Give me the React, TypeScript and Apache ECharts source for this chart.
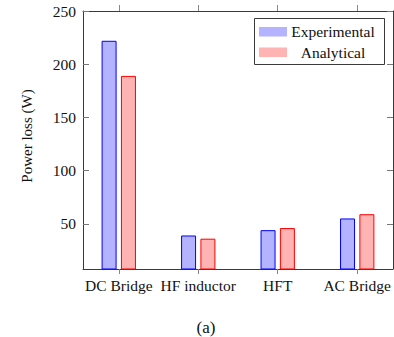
import React, { useEffect, useRef } from "react";
import * as echarts from "echarts";

// Component categories and measured / computed losses (W)
const categories = ["DC Bridge", "HF inductor", "HFT", "AC Bridge"];
const seriesNames = ["Experimental", "Analytical"];
const experimental = [222, 39, 44, 55];
const analytical = [189, 36, 46, 59];
const yTicks = [50, 100, 150, 200, 250];
const yTitle = "Power loss (W)";
const caption = "(a)";

const FONT = "Times New Roman, Liberation Serif, DejaVu Serif, serif";
const AXIS = "#3a3a3a";
const TEXT = "#111";
const BLUE_FILL = "#b3b3ff";
const BLUE_LINE = "#0000ff";
const RED_FILL = "#ffb3b3";
const RED_LINE = "#ff0000";

export default function App() {
  const ref = useRef<HTMLDivElement>(null);

  useEffect(() => {
    if (!ref.current) return;
    const chart = echarts.init(ref.current, null, { renderer: "svg" });
    const xIdx = categories.map((_, i) => i);

    const xCommon = {
      type: "value" as const,
      min: -0.45,
      max: 3.45,
      splitLine: { show: false },
      axisLine: { show: true, onZero: false, lineStyle: { color: AXIS, width: 1 } },
    };
    const yCommon = {
      type: "value" as const,
      min: 7.5,
      max: 250,
      splitLine: { show: false },
      axisLine: { show: true, onZero: false, lineStyle: { color: AXIS, width: 1 } },
      axisTick: {
        show: true,
        inside: true,
        length: 6,
        customValues: yTicks,
        lineStyle: { color: "#777" },
      },
    };

    const textStyle = (size: number) => ({
      fill: TEXT,
      fontFamily: FONT,
      fontSize: size,
      textAlign: "center",
      textVerticalAlign: "middle",
    });

    const option: any = {
      animation: false,
      backgroundColor: "#fff",
      textStyle: { fontFamily: FONT },
      grid: { left: 83, right: 1, top: 11, bottom: 68, containLabel: false },
      xAxis: [
        {
          ...xCommon,
          position: "bottom",
          axisTick: {
            show: true,
            inside: false,
            length: 5,
            customValues: xIdx,
            lineStyle: { color: "#888" },
          },
          axisLabel: {
            show: true,
            customValues: xIdx,
            margin: 8,
            color: TEXT,
            fontFamily: FONT,
            fontSize: 15.5,
            formatter: (v: number) => categories[Math.round(v)] ?? "",
          },
        },
        {
          ...xCommon,
          position: "top",
          axisTick: {
            show: true,
            inside: false,
            length: 6,
            customValues: xIdx,
            lineStyle: { color: "#888" },
          },
          axisLabel: { show: false },
        },
      ],
      yAxis: [
        {
          ...yCommon,
          position: "left",
          axisLabel: {
            show: true,
            customValues: yTicks,
            margin: 7,
            color: TEXT,
            fontFamily: FONT,
            fontSize: 15.5,
          },
        },
        {
          ...yCommon,
          position: "right",
          axisLabel: { show: false },
        },
      ],
      series: [
        {
          name: seriesNames[0],
          type: "bar",
          xAxisIndex: 0,
          yAxisIndex: 0,
          barWidth: 15,
          barGap: "29%",
          data: experimental.map((v, i) => [i, v]),
          itemStyle: { color: BLUE_FILL, borderColor: BLUE_LINE, borderWidth: 1 },
        },
        {
          name: seriesNames[1],
          type: "bar",
          xAxisIndex: 0,
          yAxisIndex: 0,
          barWidth: 15,
          barGap: "29%",
          data: analytical.map((v, i) => [i, v]),
          itemStyle: { color: RED_FILL, borderColor: RED_LINE, borderWidth: 1 },
        },
      ],
      graphic: [
        {
          type: "text",
          x: 27,
          y: 136,
          rotation: Math.PI / 2,
          style: { text: yTitle, ...textStyle(15) },
        },
        {
          type: "text",
          x: 206,
          y: 327,
          style: { text: caption, ...textStyle(17) },
        },
        {
          type: "rect",
          shape: { x: 254.5, y: 18.5, width: 130, height: 46 },
          style: { fill: "#fff", stroke: AXIS, lineWidth: 1 },
        },
        {
          type: "rect",
          shape: { x: 259, y: 27, width: 28, height: 9.5 },
          style: { fill: BLUE_FILL },
        },
        {
          type: "rect",
          shape: { x: 259, y: 47.5, width: 28, height: 9.5 },
          style: { fill: RED_FILL },
        },
        {
          type: "text",
          x: 333,
          y: 31.5,
          style: { text: seriesNames[0], ...textStyle(15.5) },
        },
        {
          type: "text",
          x: 333,
          y: 52,
          style: { text: seriesNames[1], ...textStyle(15.5) },
        },
      ],
    };

    chart.setOption(option);
    return () => chart.dispose();
  }, []);

  return (
    <div
      ref={ref}
      style={{ width: 394, height: 337, position: "absolute", left: 0, top: 0 }}
    />
  );
}
